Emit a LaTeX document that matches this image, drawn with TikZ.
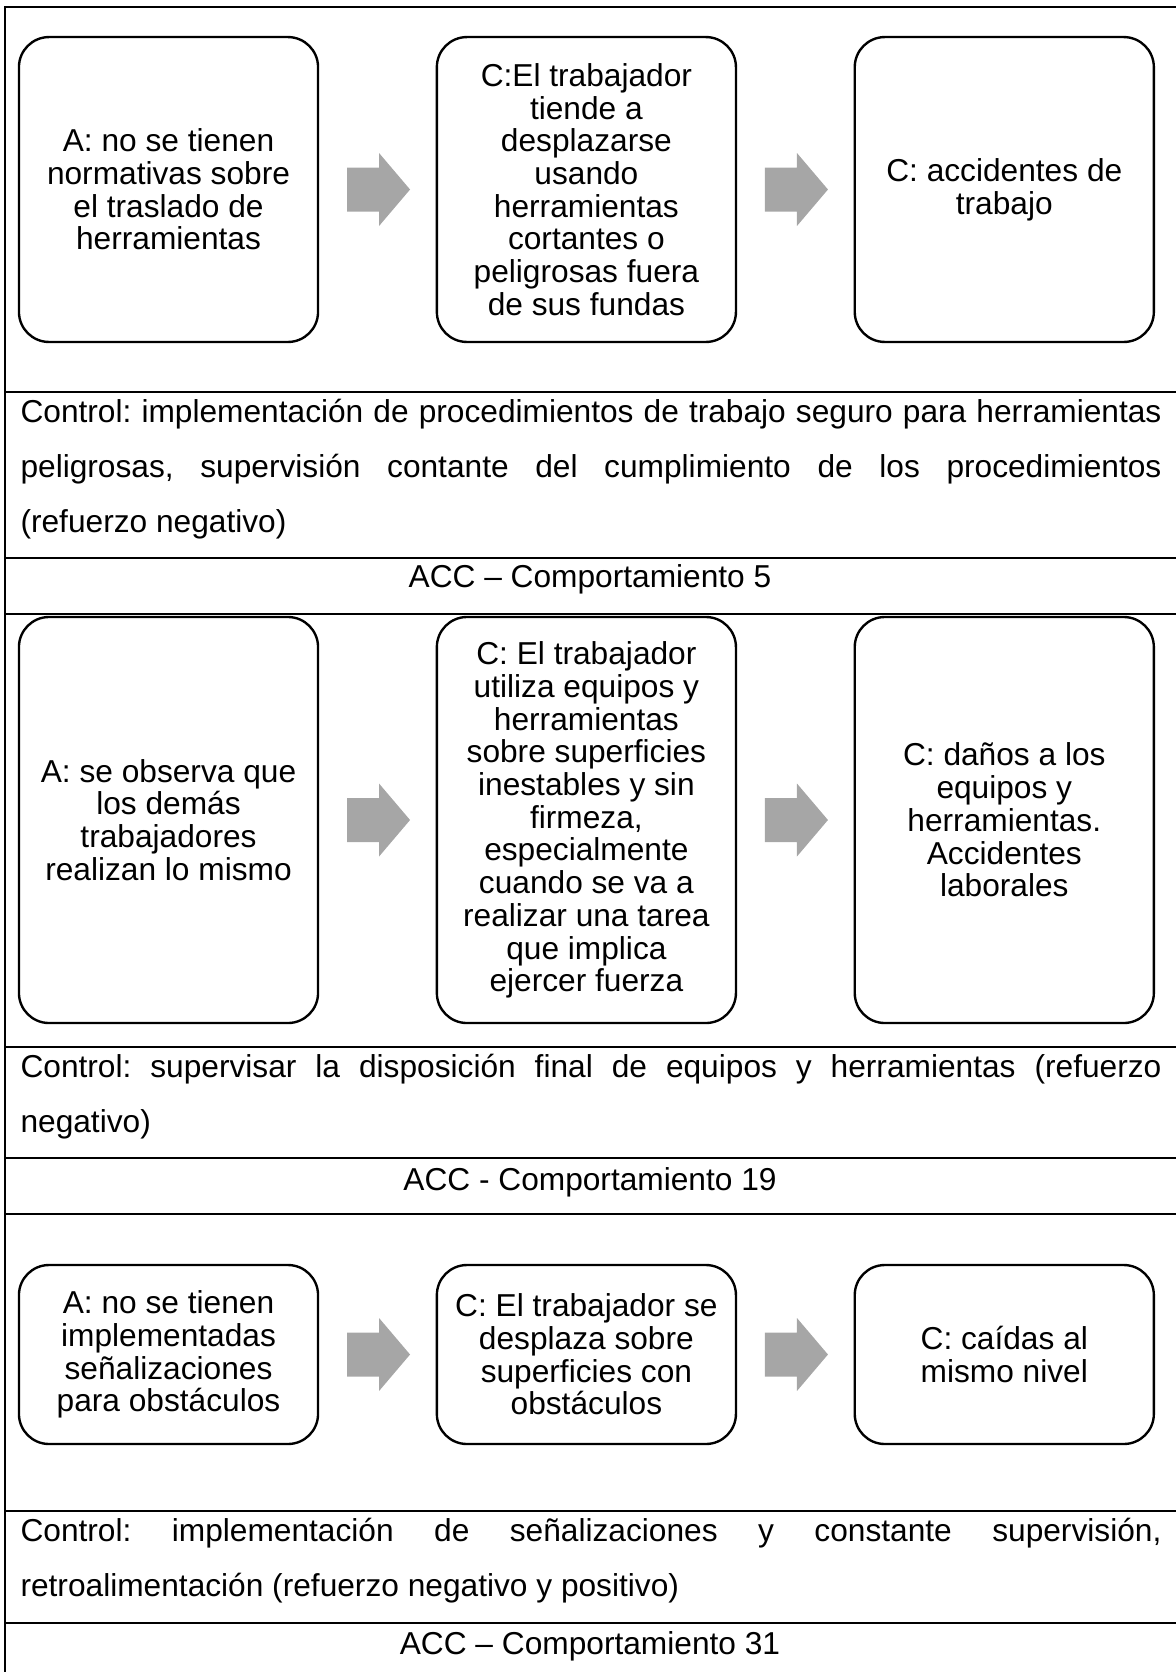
\documentclass[tikz,border=0pt]{standalone}
\usepackage{fontspec}
\setmainfont{Liberation Sans}
\usepackage{tikz}
\usetikzlibrary{positioning,calc}
\usepackage{xcolor}
\definecolor{arrowgray}{RGB}{166,166,166}
\frenchspacing

\tikzset{
    regla/.style={line width=1pt},
    caja/.style={draw, line width=0.9pt, rounded corners=11.4pt, align=center,
        inner sep=0pt, outer sep=0pt, minimum width=113.3pt,
        font=\fontsize{12}{12.4}\selectfont},
    control/.style={anchor=base west, inner sep=0pt, font=\fontsize{12}{21}\selectfont},
    acc/.style={anchor=base, inner sep=0pt, font=\fontsize{12}{14}\selectfont}
}

% gray block arrow to the right of a box
\newcommand{\flechagris}[1]{%
    \fill[arrowgray] ($(#1.east)+(29,-22)$) -- ++(32,0) -- ++(0,-14.5) -- ++(31,36.5)
        -- ++(-31,36.5) -- ++(0,-14.5) -- ++(-32,0) -- cycle;}

\begin{document}
\begin{tikzpicture}[x=0.3788pt, y=-0.3788pt]
    \useasboundingbox (0,0) rectangle (1176,1672);

    % table frame and rules
    \draw[regla] (5,1672) -- (5,7) -- (1180,7);
    \foreach \y in {392,558,614,1047,1158,1214,1511,1623}
        \draw[regla] (5,\y) -- (1180,\y);

    % Comportamiento 5
    \node[caja, minimum height=115.5pt] (a1) at (168.5,189.5)
        {A: no se tienen\\normativas sobre\\el traslado de\\herramientas};
    \node[caja, minimum height=115.5pt, right=45pt of a1] (b1)
        {C:El trabajador\\tiende a\\desplazarse\\usando\\herramientas\\cortantes o\\peligrosas fuera\\de sus fundas};
    \node[caja, minimum height=115.5pt, right=45pt of b1] (c1)
        {C: accidentes de\\trabajo};

    \node[control] (ctrl1) at (20,422) {\parbox[t]{432.2pt}{Control: implementación de procedimientos de trabajo seguro para herramientas\linebreak
        peligrosas, supervisión contante del cumplimiento de los procedimientos\linebreak
        (refuerzo negativo)}};
    \node[acc] (acc1) at (590,587) {ACC – Comportamiento 5};

    % Comportamiento 19
    \node[caja, minimum height=153.8pt] (a2) at (168.5,820)
        {A: se observa que\\los demás\\trabajadores\\realizan lo mismo};
    \node[caja, minimum height=153.8pt, right=45pt of a2] (b2)
        {C: El trabajador\\utiliza equipos y\\herramientas\\sobre superficies\\inestables y sin\\firmeza,\\especialmente\\cuando se va a\\realizar una tarea\\que implica\\ejercer fuerza};
    \node[caja, minimum height=153.8pt, right=45pt of b2] (c2)
        {C: daños a los\\equipos y\\herramientas.\\Accidentes\\laborales};

    \node[control] (ctrl2) at (20,1077) {\parbox[t]{432.2pt}{Control: supervisar la disposición final de equipos y herramientas (refuerzo\linebreak
        negativo)}};
    \node[acc] (acc2) at (590,1190) {ACC - Comportamiento 19};

    % Comportamiento 31
    \node[caja, minimum height=67.8pt] (a3) at (168.5,1354.5)
        {A: no se tienen\\implementadas\\señalizaciones\\para obstáculos};
    \node[caja, minimum height=67.8pt, right=45pt of a3] (b3)
        {C: El trabajador se\\desplaza sobre\\superficies con\\obstáculos};
    \node[caja, minimum height=67.8pt, right=45pt of b3] (c3)
        {C: caídas al\\mismo nivel};

    \node[control] (ctrl3) at (20,1541) {\parbox[t]{432.2pt}{Control: implementación de señalizaciones y constante supervisión,\linebreak
        retroalimentación (refuerzo negativo y positivo)}};
    \node[acc] (acc3) at (590,1654) {ACC – Comportamiento 31};

    % arrows between boxes
    \foreach \n in {a1,b1,a2,b2,a3,b3}
        \flechagris{\n};
\end{tikzpicture}
\end{document}
